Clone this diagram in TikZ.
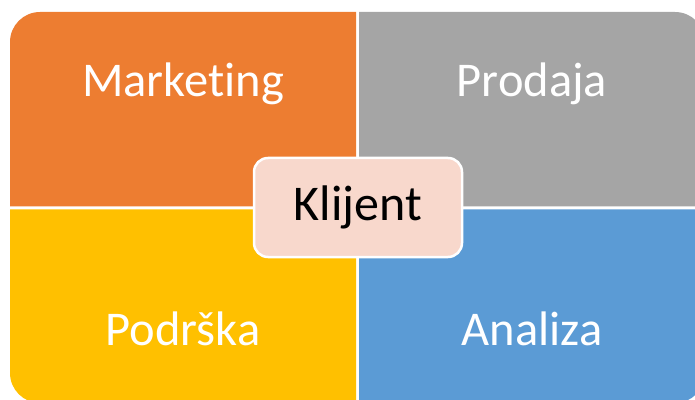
\documentclass[tikz,border=0pt]{standalone}
\usepackage{fontspec}
\setmainfont[Ligatures=NoCommon]{Carlito}
\definecolor{mktorange}{HTML}{ED7D31}
\definecolor{prodgray}{HTML}{A5A5A5}
\definecolor{podryellow}{HTML}{FFC000}
\definecolor{analblue}{HTML}{5B9BD5}
\definecolor{klijpink}{HTML}{F8D8CC}
\begin{document}
\begin{tikzpicture}[x=1pt, y=1pt,
    lbl/.style={text=white, font=\fontsize{48.5}{56}\selectfont, anchor=base}]
    \useasboundingbox (0,0) rectangle (695,399);
    \clip (0,0) rectangle (695,399);
    % quadrants
    \fill[mktorange] (10,192.5) -- (10,357) arc[start angle=180, end angle=90, radius=30] -- (356,387) -- (356,192.5) -- cycle;
    \fill[prodgray] (359,192.5) -- (359,387) -- (675,387) arc[start angle=90, end angle=0, radius=30] -- (705,192.5) -- cycle;
    \fill[podryellow] (10,189.5) -- (10,26) arc[start angle=180, end angle=270, radius=30] -- (356,-4) -- (356,189.5) -- cycle;
    \fill[analblue] (359,189.5) -- (359,-4) -- (675,-4) arc[start angle=270, end angle=360, radius=30] -- (705,189.5) -- cycle;
    % labels
    \node[lbl] (marketing) at (183,302) {Marketing};
    \node[lbl] (prodaja) at (532,302) {Prodaja};
    \node[lbl] (podrska) at (183,54) {Podrška};
    \node[lbl] (analiza) at (532,54) {Analiza};
    % centre
    \node[draw=white, line width=2.5pt, fill=klijpink, rounded corners=14pt, minimum width=208pt, minimum height=99pt, inner sep=0pt, font=\fontsize{50}{58}\selectfont] (klijent) at (358,191.5) {Klijent};
\end{tikzpicture}
\end{document}
